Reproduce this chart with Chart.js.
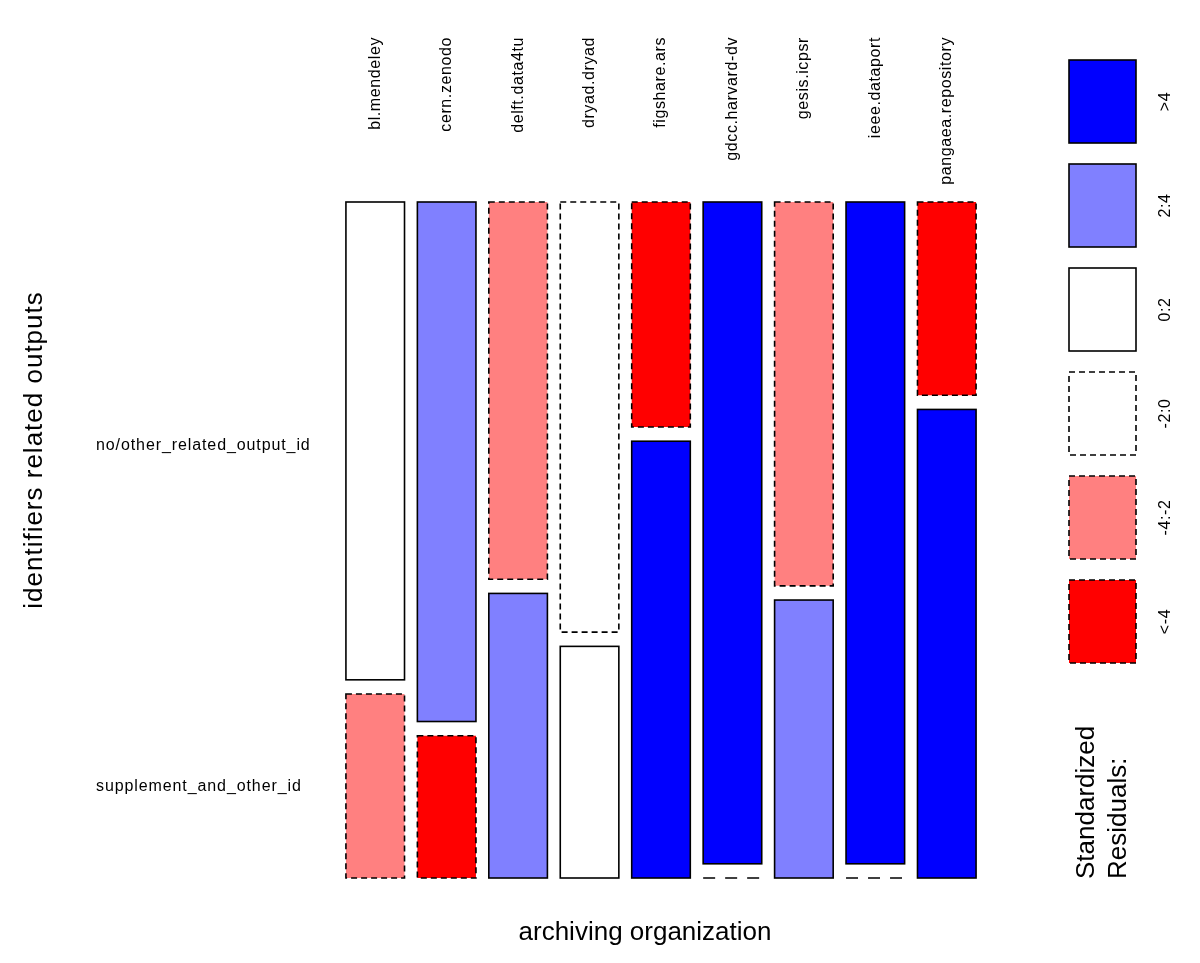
<!DOCTYPE html>
<html>
<head>
<meta charset="utf-8">
<script src="https://cdn.jsdelivr.net/npm/chart.js@4.4.1/dist/chart.umd.min.js"></script>
<style>
  html, body { margin: 0; padding: 0; background: #fff; }
  #mosaic { display: block; }
</style>
</head>
<body>
<canvas id="mosaic" width="1200" height="963"></canvas>
<script>
// archiving organizations (columns of the mosaic)
const organizations = ['bl.mendeley', 'cern.zenodo', 'delft.data4tu', 'dryad.dryad', 'figshare.ars',
    'gdcc.harvard-dv', 'gesis.icpsr', 'ieee.dataport', 'pangaea.repository'];
const rowLabels = ['no/other_related_output_id', 'supplement_and_other_id'];

// share of each column (%)
const noOtherShare    = [72.2, 78.5, 57.0, 65.0, 34.0, 100, 58.0, 100, 29.2];
const supplementShare = [27.8, 21.5, 43.0, 35.0, 66.0,   0, 42.0,   0, 70.8];

// standardized residual class of every cell
const noOtherResidual    = ['0:2', '2:4', '-4:-2', '-2:0', '<-4', '>4', '-4:-2', '>4', '<-4'];
const supplementResidual = ['-4:-2', '<-4', '2:4', '0:2', '>4', '<-4', '2:4', '<-4', '>4'];

const residualClasses = ['>4', '2:4', '0:2', '-2:0', '-4:-2', '<-4'];
const classFill = {'>4': '#0000ff', '2:4': '#8080ff', '0:2': '#ffffff', '-2:0': '#ffffff', '-4:-2': '#ff8080', '<-4': '#ff0000'};
const classDashed = {'>4': false, '2:4': false, '0:2': false, '-2:0': true, '-4:-2': true, '<-4': true};

const gap = 2.1; // space between stacked tiles, in y units
const k = (100 - gap) / 100;
const topRanges = noOtherShare.map(s => [100 - s * k, 100]);
const bottomRanges = supplementShare.map(s => [0, s * k]);

const FONT = '"Liberation Sans", Arial, sans-serif';

function rotatedText(ctx, text, x, y, align) {
    ctx.save();
    ctx.translate(x, y);
    ctx.rotate(-Math.PI / 2);
    ctx.textAlign = align;
    ctx.textBaseline = 'middle';
    ctx.fillText(text, 0, 0);
    ctx.restore();
}

const mosaicDecor = {
    id: 'mosaicDecor',
    afterDatasetsDraw(chart) {
        const ctx = chart.ctx;
        const rows = [noOtherResidual, supplementResidual];
        chart.data.datasets.forEach((ds, di) => {
            chart.getDatasetMeta(di).data.forEach((bar, i) => {
                const p = bar.getProps(['x', 'y', 'base', 'width'], true);
                const left = p.x - p.width / 2;
                const top = Math.min(p.y, p.base);
                const h = Math.abs(p.base - p.y);
                ctx.save();
                ctx.strokeStyle = '#000';
                ctx.lineWidth = 1.6;
                if (h < 0.5) {
                    // empty cell -> dashed line
                    ctx.setLineDash([12, 10]);
                    ctx.beginPath();
                    ctx.moveTo(left, p.base);
                    ctx.lineTo(left + p.width, p.base);
                    ctx.stroke();
                } else {
                    ctx.setLineDash(classDashed[rows[di][i]] ? [6, 4] : []);
                    ctx.strokeRect(left, top, p.width, h);
                }
                ctx.restore();
            });
        });

        const xs = chart.scales.x;
        const ys = chart.scales.y;
        ctx.save();
        ctx.fillStyle = '#000';

        // column labels
        ctx.font = '16px ' + FONT;
        ctx.letterSpacing = '0.6px';
        organizations.forEach((org, i) => {
            rotatedText(ctx, org, xs.getPixelForValue(i), 37, 'right');
        });

        // row labels
        ctx.letterSpacing = '0.9px';
        ctx.textAlign = 'left';
        ctx.textBaseline = 'middle';
        ctx.fillText(rowLabels[0], 96, ys.getPixelForValue(64));
        ctx.fillText(rowLabels[1], 96, ys.getPixelForValue(13.5));
        ctx.letterSpacing = '0.6px';

        // legend
        const boxL = 1069, boxW = 67, boxH = 83, step = 104;
        residualClasses.forEach((c, i) => {
            const top = 60 + i * step;
            ctx.fillStyle = classFill[c];
            ctx.fillRect(boxL, top, boxW, boxH);
            ctx.strokeStyle = '#000';
            ctx.lineWidth = 1.6;
            ctx.setLineDash(classDashed[c] ? [6, 4] : []);
            ctx.strokeRect(boxL, top, boxW, boxH);
            ctx.setLineDash([]);
            ctx.fillStyle = '#000';
            rotatedText(ctx, c, 1166, top + boxH / 2, 'center');
        });

        // titles
        ctx.letterSpacing = '0px';
        ctx.font = '26px ' + FONT;
        ctx.textAlign = 'center';
        ctx.textBaseline = 'middle';
        ctx.fillText('archiving organization', 645, 933);
        ctx.letterSpacing = '1px';
        rotatedText(ctx, 'identifiers related outputs', 35, 450, 'center');
        ctx.letterSpacing = '0px';
        rotatedText(ctx, 'Standardized', 1087, 879, 'left');
        rotatedText(ctx, 'Residuals:', 1119, 879, 'left');
        ctx.restore();
    }
};

new Chart(document.getElementById('mosaic'), {
    type: 'bar',
    data: {
        labels: organizations,
        datasets: [
            {
                label: rowLabels[0],
                data: topRanges,
                backgroundColor: noOtherResidual.map(c => classFill[c]),
                borderWidth: 0,
                stack: 'tiles'
            },
            {
                label: rowLabels[1],
                data: bottomRanges,
                backgroundColor: supplementResidual.map(c => classFill[c]),
                borderWidth: 0,
                stack: 'tiles'
            }
        ]
    },
    options: {
        responsive: false,
        animation: false,
        devicePixelRatio: 1,
        categoryPercentage: 1,
        barPercentage: 0.82,
        layout: {
            padding: {left: 339.5, right: 217.5, top: 202, bottom: 85}
        },
        scales: {
            x: {display: false, stacked: true},
            y: {display: false, stacked: false, min: 0, max: 100}
        },
        plugins: {
            legend: {display: false},
            tooltip: {enabled: false}
        }
    },
    plugins: [mosaicDecor]
});
</script>
</body>
</html>
